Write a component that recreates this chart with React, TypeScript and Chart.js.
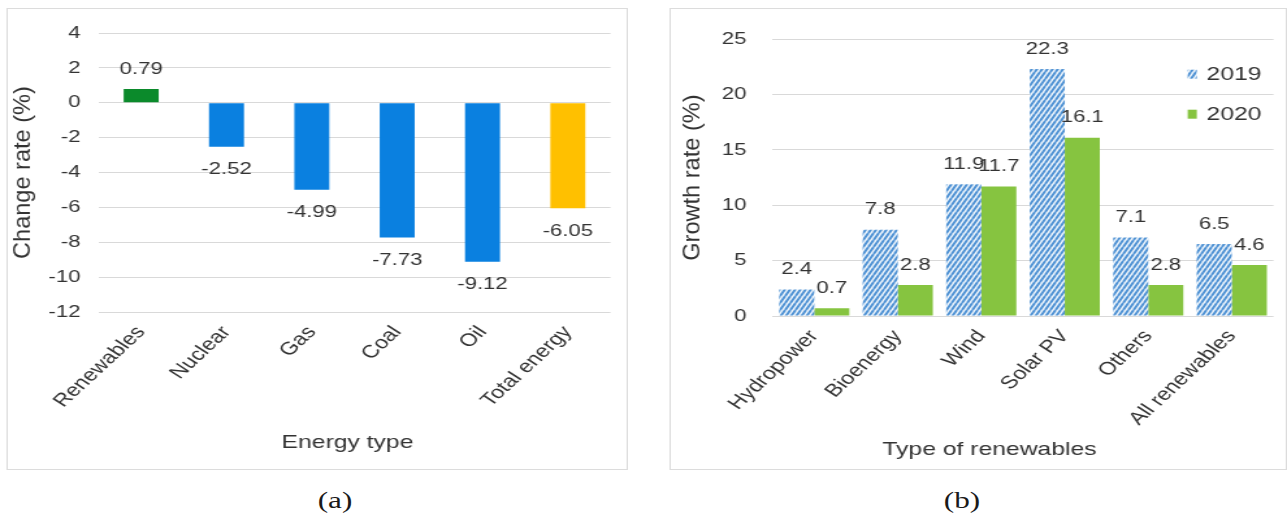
import React, { useEffect, useRef } from 'react';
import { Chart, registerables } from 'chart.js';

Chart.register(...registerables);

// ---------- data ----------
const energyTypes = ['Renewables', 'Nuclear', 'Gas', 'Coal', 'Oil', 'Total energy'];
const changeRates = [0.79, -2.52, -4.99, -7.73, -9.12, -6.05];
const changeColors = ['#0b8a2b', '#0a80e0', '#0a80e0', '#0a80e0', '#0a80e0', '#ffc000'];

const renewableTypes = ['Hydropower', 'Bioenergy', 'Wind', 'Solar PV', 'Others', 'All renewables'];
const growth2019 = [2.4, 7.8, 11.9, 22.3, 7.1, 6.5];
const growth2020 = [0.7, 2.8, 11.7, 16.1, 2.8, 4.6];
const seriesNames = ['2019', '2020'];

// ---------- layout (page pixels; the figure is horizontally stretched) ----------
const S = 1.3;
const FONT = '"Liberation Sans", Arial, sans-serif';
const YTICK_SIZE = 17;
const XTICK_SIZE = 18;
const LABEL_SIZE = 17;
const TITLE_SIZE = 19;
const TEXT = '#333333';
const GRID = '#d9d9d9';

const panelA = { boxL: 6, boxR: 628, boxT: 8, boxB: 470, plotL: 98, plotR: 610, plotT: 32, plotB: 312, tickR: 80, yTitleX: 22, xTitleX: 347, xTitleY: 443 };
const panelB = { boxL: 670, boxR: 1287, boxT: 8, boxB: 470, plotL: 773, plotR: 1274, plotT: 32, plotB: 316, tickR: 747, yTitleX: 693, xTitleX: 990, xTitleY: 450 };

function geom(p: any) {
  const originX = p.boxL / S + 1;
  const originY = p.boxT + 1;
  const w = Math.round((p.boxR - p.boxL) / S - 2);
  const h = Math.round(p.boxB - p.boxT - 2);
  const plotL = p.plotL / S - originX;
  const plotR = p.plotR / S - originX;
  const plotT = p.plotT - originY;
  const plotB = p.plotB - originY;
  const lh = TITLE_SIZE * 1.2;
  const xBottom = p.xTitleY - originY + lh / 2;
  return {
    w, h,
    yWidth: plotL,
    padRight: w - plotR,
    padTop: plotT,
    padBottom: h - xBottom,
    xHeight: xBottom - plotB,
    tickPad: plotL - (p.tickR / S - originX),
    yTitleX: p.yTitleX / S - originX,
    xTitleX: p.xTitleX / S - originX,
    xTitleY: p.xTitleY - originY,
  };
}

function makeHatch() {
  const a = 4, b = 7;
  const c = document.createElement('canvas');
  c.width = a; c.height = b;
  const g = c.getContext('2d')!;
  g.fillStyle = '#eef5fc';
  g.fillRect(0, 0, a, b);
  g.strokeStyle = '#4f92d4';
  g.lineWidth = 2;
  g.beginPath();
  for (const dx of [-a, 0, a]) {
    g.moveTo(dx, b);
    g.lineTo(dx + a, 0);
  }
  g.stroke();
  return g.createPattern(c, 'repeat')!;
}

function dataLabels(fmt: (v: number) => string, offPos: number, offNeg: number) {
  return {
    id: 'dataLabels',
    afterDatasetsDraw(chart: any) {
      const ctx = chart.ctx;
      ctx.save();
      ctx.font = `${LABEL_SIZE}px ${FONT}`;
      ctx.fillStyle = TEXT;
      ctx.textAlign = 'center';
      ctx.textBaseline = 'middle';
      chart.data.datasets.forEach((ds: any, i: number) => {
        const meta = chart.getDatasetMeta(i);
        meta.data.forEach((el: any, j: number) => {
          const v = ds.data[j];
          const y = v >= 0 ? el.y - offPos : el.y + offNeg;
          ctx.fillText(fmt(v), el.x, y);
        });
      });
      ctx.restore();
    },
  };
}

function axisTitles(g: any, xText: string, yText: string) {
  return {
    id: 'axisTitles',
    afterDraw(chart: any) {
      const { ctx, chartArea } = chart;
      ctx.save();
      ctx.font = `${TITLE_SIZE}px ${FONT}`;
      ctx.fillStyle = TEXT;
      ctx.textAlign = 'center';
      ctx.textBaseline = 'middle';
      ctx.fillText(xText, g.xTitleX, g.xTitleY);
      ctx.translate(g.yTitleX, (chartArea.top + chartArea.bottom) / 2);
      ctx.rotate(-Math.PI / 2);
      ctx.scale(1.24, 1);
      ctx.fillText(yText, 0, 0);
      ctx.restore();
    },
  };
}

const legendInside = {
  id: 'legendInside',
  afterDraw(chart: any) {
    const { ctx, chartArea } = chart;
    ctx.save();
    ctx.font = `${TITLE_SIZE}px ${FONT}`;
    ctx.textAlign = 'left';
    ctx.textBaseline = 'middle';
    chart.data.datasets.forEach((ds: any, i: number) => {
      const y = chartArea.top + 35 + i * 40;
      ctx.fillStyle = ds.backgroundColor;
      ctx.fillRect(chartArea.right - 66, y - 4.5, 7, 9);
      ctx.fillStyle = TEXT;
      ctx.fillText(ds.label, chartArea.right - 51.5, y + 1);
    });
    ctx.restore();
  },
};

function baseOptions(g: any, yMin: number, yMax: number, step: number) {
  return {
    responsive: false,
    animation: false as const,
    layout: { padding: { left: 0, top: g.padTop, right: g.padRight, bottom: g.padBottom } },
    plugins: { legend: { display: false }, tooltip: { enabled: false } },
    scales: {
      x: {
        afterFit: (s: any) => { s.height = g.xHeight; },
        grid: { display: false, drawTicks: false },
        border: { display: false },
        ticks: { color: TEXT, font: { size: XTICK_SIZE, family: FONT }, minRotation: 50, maxRotation: 50, padding: 10, autoSkip: false },
      },
      y: {
        min: yMin,
        max: yMax,
        afterFit: (s: any) => { s.width = g.yWidth; },
        grid: { color: GRID, lineWidth: 1, drawTicks: false },
        border: { display: false },
        ticks: { stepSize: step, color: TEXT, font: { size: YTICK_SIZE, family: FONT }, padding: g.tickPad },
      },
    },
  };
}

function ChangeChart() {
  const ref = useRef<HTMLCanvasElement>(null);
  const g = geom(panelA);
  useEffect(() => {
    const chart = new Chart(ref.current!, {
      type: 'bar',
      data: {
        labels: energyTypes,
        datasets: [{ label: 'Change rate', data: changeRates, backgroundColor: changeColors, barPercentage: 0.41, categoryPercentage: 1 }],
      },
      options: baseOptions(g, -12, 4, 2) as any,
      plugins: [dataLabels((v) => v.toFixed(2), 20, 23), axisTitles(g, 'Energy type', 'Change rate (%)')],
    });
    return () => chart.destroy();
  }, []);
  return <canvas ref={ref} width={g.w} height={g.h} style={{ display: 'block' }} />;
}

function GrowthChart() {
  const ref = useRef<HTMLCanvasElement>(null);
  const g = geom(panelB);
  useEffect(() => {
    const hatch = makeHatch();
    const chart = new Chart(ref.current!, {
      type: 'bar',
      data: {
        labels: renewableTypes,
        datasets: [
          { label: seriesNames[0], data: growth2019, backgroundColor: hatch as any, barPercentage: 1, categoryPercentage: 0.84 },
          { label: seriesNames[1], data: growth2020, backgroundColor: '#86c440', barPercentage: 1, categoryPercentage: 0.84 },
        ],
      },
      options: baseOptions(g, 0, 25, 5) as any,
      plugins: [dataLabels((v) => v.toFixed(1), 20, 20), legendInside, axisTitles(g, 'Type of renewables', 'Growth rate (%)')],
    });
    return () => chart.destroy();
  }, []);
  return <canvas ref={ref} width={g.w} height={g.h} style={{ display: 'block' }} />;
}

function Panel({ p, children }: any) {
  return (
    <div
      style={{
        position: 'absolute',
        left: p.boxL / S,
        top: p.boxT,
        width: (p.boxR - p.boxL) / S,
        height: p.boxB - p.boxT,
        border: '1px solid #dcdcdc',
        boxSizing: 'border-box',
        background: '#fff',
      }}
    >
      {children}
    </div>
  );
}

function Caption({ x, text }: { x: number; text: string }) {
  return (
    <div
      style={{
        position: 'absolute',
        left: x / S - 40,
        width: 80,
        top: 487,
        lineHeight: '26px',
        textAlign: 'center',
        fontFamily: '"Liberation Serif", "Times New Roman", serif',
        fontSize: 24,
        color: '#1a1a1a',
      }}
    >
      {text}
    </div>
  );
}

export default function App() {
  return (
    <div
      style={{
        position: 'absolute',
        left: 0,
        top: 0,
        width: 1288 / S,
        height: 517,
        background: '#fff',
        transform: `scaleX(${S})`,
        transformOrigin: '0 0',
        overflow: 'hidden',
      }}
    >
      <Panel p={panelA}><ChangeChart /></Panel>
      <Panel p={panelB}><GrowthChart /></Panel>
      <Caption x={335} text="(a)" />
      <Caption x={962} text="(b)" />
    </div>
  );
}
